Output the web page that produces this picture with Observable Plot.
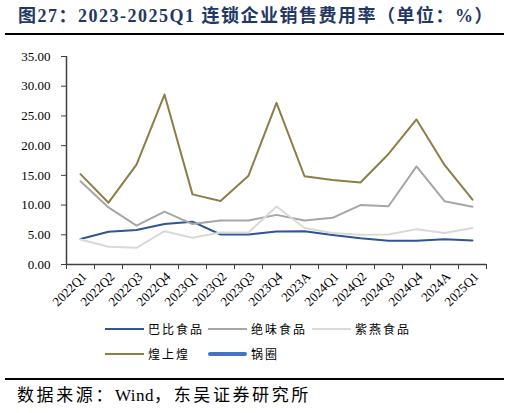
<!DOCTYPE html>
<html><head><meta charset="utf-8">
<script src="https://cdn.jsdelivr.net/npm/d3@7"></script>
<script src="https://cdn.jsdelivr.net/npm/@observablehq/plot@0.6"></script>
<style>
body{margin:0;width:510px;height:413px;position:relative;background:#fff;font-family:"Liberation Serif","Noto Sans CJK SC",serif;overflow:hidden}
#title{position:absolute;left:18px;top:4px;font-size:18px;font-weight:bold;color:#1f3864;white-space:nowrap;line-height:24px;letter-spacing:1.5px}
.rule{position:absolute;left:5px;width:499px;height:2px;background:#000}
#chart{position:absolute;left:0;top:40px}
.leg{position:absolute;font-size:12px;letter-spacing:2px;line-height:16px;white-space:nowrap;font-family:"Noto Sans CJK SC",sans-serif;color:#000}
.sw{position:absolute;height:2px}
#src{position:absolute;left:17px;top:384px;font-size:17px;white-space:nowrap;letter-spacing:2.6px;line-height:24px}
</style>
</head><body>
<div id="title">图27：2023-2025Q1 连锁企业销售费用率（单位：%）</div>
<div class="rule" style="top:33px"></div>
<div id="chart"></div>
<div id="legend"></div>
<div class="rule" style="top:378px"></div>
<div id="src">数据来源：<span style="letter-spacing:0.5px">Wind</span>，东吴证券研究所</div>
<script>
const categories = ["2022Q1","2022Q2","2022Q3","2022Q4","2023Q1","2023Q2","2023Q3","2023Q4","2023A","2024Q1","2024Q2","2024Q3","2024Q4","2024A","2025Q1"];
const babi = [4.3,5.5,5.8,6.8,7.2,5.05,5.05,5.55,5.6,4.95,4.4,4.0,4.0,4.25,4.05];
const juewei = [14.0,9.6,6.55,8.9,6.8,7.4,7.4,8.35,7.4,7.85,10.0,9.8,16.5,10.65,9.7];
const ziyan = [4.2,3.0,2.8,5.6,4.5,5.4,5.4,9.75,6.15,5.3,5.0,5.05,5.95,5.3,6.15];
const huangshanghuang = [15.2,10.4,16.8,28.6,11.8,10.7,14.95,27.2,14.85,14.2,13.8,18.6,24.4,16.75,10.9];
const guoquan = [];
const seriesNames = ["巴比食品","绝味食品","紫燕食品","煌上煌","锅圈"];
const seriesValues = [babi, juewei, ziyan, huangshanghuang, guoquan];
const seriesColors = ["#2f5597","#a6a6a6","#d9d9d9","#8c7e47","#4472c4"];
const seriesWidths = [2,2,2,2,4];
const yTicks = [0,5,10,15,20,25,30,35];

const rows = [];
seriesValues.forEach((vals, s) => vals.forEach((v, i) => rows.push({series: seriesNames[s], idx: i + 0.5, value: v})));

const marks = [];
seriesNames.forEach((name, s) => {
  marks.push(Plot.line(rows.filter(r => r.series === name), {x: "idx", y: "value", stroke: seriesColors[s], strokeWidth: seriesWidths[s]}));
});

const chart = Plot.plot({
  width: 510, height: 280,
  marginLeft: 66, marginRight: 24, marginTop: 16, marginBottom: 56,
  style: {fontFamily: "'Liberation Serif', serif", fontSize: "13px", color: "#000", background: "transparent"},
  x: {domain: [0, categories.length], axis: null, label: null},
  y: {domain: [0, 35], axis: null, label: null},
  marks: [
    Plot.axisY({ticks: yTicks, tickFormat: d => d.toFixed(2), tickSize: 5, tickPadding: 11, stroke: "#404040", fontSize: 13, label: null}),
    Plot.axisX({ticks: d3.range(categories.length + 1), tickFormat: () => "", tickSize: 5, stroke: "#404040", label: null}),
    Plot.ruleX([0], {stroke: "#404040", strokeWidth: 1.5}),
    Plot.ruleY([0], {stroke: "#404040", strokeWidth: 1.5}),
    Plot.text(categories, {x: (d, i) => i + 0.5, y: () => 0, text: d => d, rotate: -45, textAnchor: "end", dx: 4, dy: 10, fontSize: 13, fill: "#000"}),
    ...marks
  ]
});
document.getElementById("chart").appendChild(chart);

// legend
const legendPos = [[105,329],[208,329],[312,329],[105,354],[208,354]];
const leg = document.getElementById("legend");
seriesNames.forEach((name, s) => {
  const [x, y] = legendPos[s];
  const sw = document.createElement("div");
  sw.className = "sw";
  sw.style.left = x + "px";
  sw.style.width = "39px";
  sw.style.top = (y - seriesWidths[s] / 2) + "px";
  sw.style.height = seriesWidths[s] + "px";
  sw.style.background = seriesColors[s];
  if (seriesWidths[s] > 2) sw.style.borderRadius = "2px";
  leg.appendChild(sw);
  const t = document.createElement("div");
  t.className = "leg";
  t.textContent = name;
  t.style.left = (x + 43) + "px";
  t.style.top = (y - 8) + "px";
  leg.appendChild(t);
});
</script>
</body></html>
